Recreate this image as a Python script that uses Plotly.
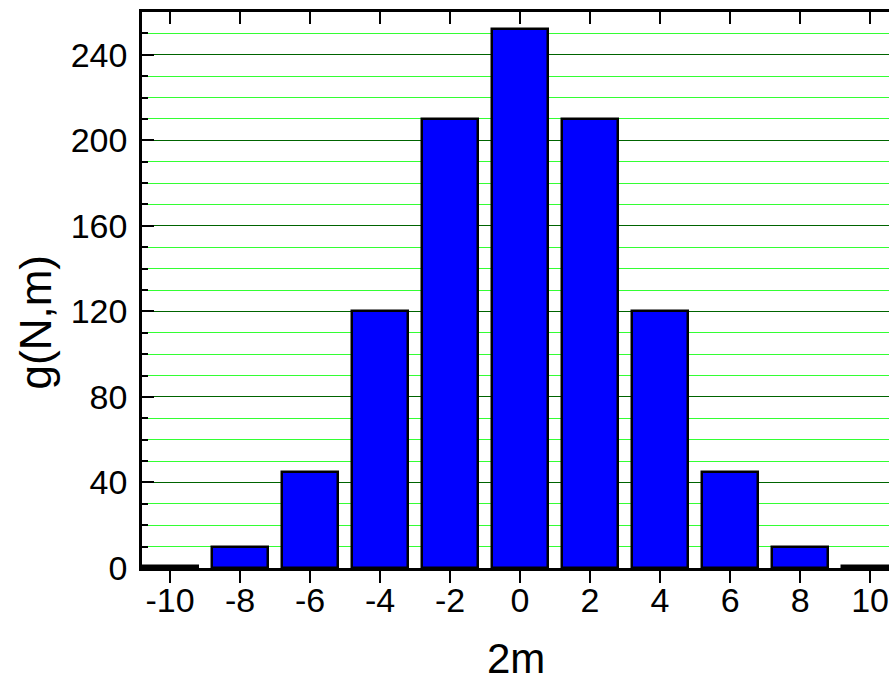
import plotly.graph_objects as go

x_vals = [-10, -8, -6, -4, -2, 0, 2, 4, 6, 8, 10]
g_vals = [1, 10, 45, 120, 210, 252, 210, 120, 45, 10, 1]
x_ticks = [-10, -8, -6, -4, -2, 0, 2, 4, 6, 8, 10]
y_ticks = [0, 40, 80, 120, 160, 200, 240]
x_title = "2m"
y_title = "g(N,m)"

FONT = "Liberation Sans, Arial, sans-serif"
XR = [-10.8, 10.54]

fig = go.Figure()
fig.add_trace(go.Bar(
    x=x_vals, y=g_vals, width=1.6,
    marker=dict(color="#0000ff", line=dict(color="black", width=2.5)),
    showlegend=False,
))
fig.add_trace(go.Scatter(x=[0], y=[0], xaxis="x2", mode="markers",
                         marker=dict(opacity=0), showlegend=False, hoverinfo="skip"))

fig.update_layout(
    width=889, height=684,
    margin=dict(l=142, r=0, t=12, b=116),
    paper_bgcolor="white", plot_bgcolor="white",
    font=dict(family=FONT, color="black", size=34),
    bargap=0,
    xaxis=dict(
        range=XR, tickvals=x_ticks, ticktext=[str(v) for v in x_ticks],
        ticks="outside", ticklen=12, tickwidth=2, tickcolor="black",
        showline=True, linecolor="black", linewidth=2.5,
        showgrid=False, zeroline=False, automargin=False,
        tickfont=dict(size=34),
        ticklabelstandoff=-12,
        ticklabeloverflow="allow",
    ),
    xaxis2=dict(
        range=XR, overlaying="x", side="top", anchor="y",
        tickvals=x_ticks, showticklabels=False,
        ticks="inside", ticklen=12, tickwidth=2, tickcolor="black",
        showline=True, linecolor="black", linewidth=2.5,
        showgrid=False, zeroline=False, automargin=False,
    ),
    yaxis=dict(
        range=[0, 260], tickvals=y_ticks,
        ticks="inside", ticklen=12, tickwidth=2, tickcolor="black",
        showline=True, linecolor="black", linewidth=2.5,
        showgrid=True, gridcolor="#006400", gridwidth=1,
        zeroline=False, automargin=False,
        minor=dict(dtick=10, ticks="inside", ticklen=6, tickwidth=2,
                   tickcolor="black", showgrid=True, gridcolor="#33ff33", gridwidth=1),
        tickfont=dict(size=34),
        ticklabelstandoff=5,
    ),
    annotations=[
        dict(text=x_title, xref="paper", yref="paper", x=0.5, y=-0.2075,
             xanchor="center", yanchor="bottom", showarrow=False,
             borderpad=0, font=dict(size=42)),
        dict(text=y_title, xref="paper", yref="paper", x=-0.143, y=0.442,
             xanchor="center", yanchor="middle", showarrow=False, textangle=-90,
             font=dict(size=44)),
    ],
)

fig.write_html(
    "out.html",
    config={"displayModeBar": False},
    post_script="document.body.style.margin='0';document.body.style.overflow='hidden';",
)
